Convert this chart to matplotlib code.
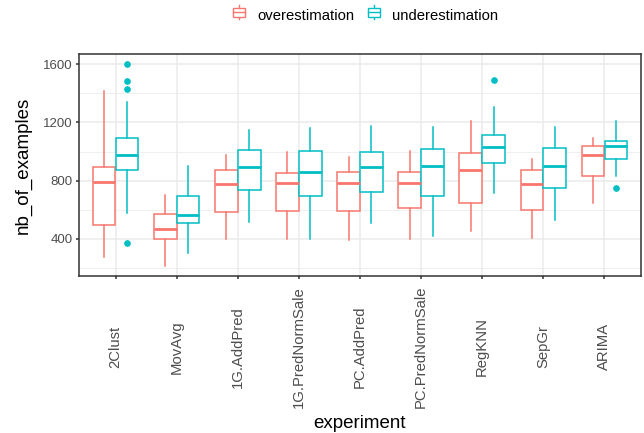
import matplotlib
matplotlib.use("Agg")
import matplotlib.pyplot as plt
from matplotlib.lines import Line2D
from matplotlib.patches import Rectangle

plt.rcParams["font.family"] = ["Liberation Sans", "DejaVu Sans"]

RED, TEAL = "#F8766D", "#00BFC4"
GRID, BORDER, TICK = "#EBEBEB", "#333333", "#4D4D4D"

experiments = ["2Clust", "MovAvg", "1G.AddPred", "1G.PredNormSale", "PC.AddPred",
               "PC.PredNormSale", "RegKNN", "SepGr", "ARIMA"]

# five-number summaries: low whisker, q1, median, q3, high whisker
over_low = [279, 217, 400, 400, 393, 397, 452, 404, 647]
over_q1 = [493, 397, 585, 592, 592, 613, 647, 596, 830]
over_med = [788, 466, 779, 786, 786, 781, 871, 779, 974]
over_q3 = [894, 569, 873, 851, 857, 862, 990, 871, 1038]
over_high = [1417, 702, 978, 999, 963, 1004, 1210, 949, 1095]
over_fliers = [[], [], [], [], [], [], [], [], []]

under_low = [580, 304, 514, 400, 510, 418, 716, 528, 832]
under_q1 = [875, 507, 736, 697, 722, 697, 923, 747, 949]
under_med = [974, 567, 891, 862, 896, 898, 1031, 898, 1035]
under_q3 = [1093, 695, 1013, 1006, 999, 1015, 1114, 1022, 1074]
under_high = [1340, 903, 1150, 1161, 1175, 1166, 1306, 1168, 1210]
under_fliers = [[1600, 1481, 1426, 373], [], [], [], [], [], [1493], [], [747]]


def stats(low, q1, med, q3, high, fliers):
    return [{"whislo": a, "q1": b, "med": c, "q3": d, "whishi": e, "fliers": f}
            for a, b, c, d, e, f in zip(low, q1, med, q3, high, fliers)]


fig = plt.figure(figsize=(6.44, 4.33), dpi=100)
ax = fig.add_axes([79 / 644, 1 - 276 / 433, (641 - 79) / 644, (276 - 54) / 433])

pos = list(range(1, len(experiments) + 1))
w = 0.375
series = [
    (stats(over_low, over_q1, over_med, over_q3, over_high, over_fliers), RED, -w / 2),
    (stats(under_low, under_q1, under_med, under_q3, under_high, under_fliers), TEAL, w / 2),
]
for st, col, off in series:
    ax.bxp(st, positions=[p + off for p in pos], widths=w * 0.98, showcaps=False,
           patch_artist=True,
           boxprops=dict(facecolor="white", edgecolor=col, lw=1.1),
           whiskerprops=dict(color=col, lw=1.1),
           medianprops=dict(color=col, lw=2.0, solid_capstyle="butt"),
           flierprops=dict(marker="o", markersize=3.8, markerfacecolor=col,
                           markeredgecolor=col, lw=0),
           zorder=3)

ax.set_xlim(0.4, len(experiments) + 0.6)
ax.set_ylim(146, 1669)
ax.set_yticks([400, 800, 1200, 1600])
ax.set_yticks([200, 600, 1000, 1400], minor=True)
ax.set_xticks(pos)
# labels are centred vertically below the axis (ggplot angle=90, hjust=0.5)
ax.set_xticklabels(experiments, rotation=90, ha="center", va="center")
ax.grid(which="major", color=GRID, lw=1.1, zorder=0)
ax.grid(which="minor", axis="y", color=GRID, lw=0.55, zorder=0)
ax.set_axisbelow(True)
for s in ax.spines.values():
    s.set_color(BORDER)
    s.set_linewidth(1.1)
ax.tick_params(which="major", length=2.4, width=1.1, color=BORDER, labelcolor=TICK)
ax.tick_params(axis="y", labelsize=9.5, pad=2)
ax.tick_params(axis="x", labelsize=10.7, pad=48.5)
ax.tick_params(which="minor", length=0)
ax.set_xlabel("experiment", fontsize=13.5, va="center")
ax.set_ylabel("nb_of_examples", fontsize=13.5, va="center")
ax.xaxis.set_label_coords(0.5, (276 - 423) / 222)
ax.yaxis.set_label_coords((23 - 79) / 562, 0.5)


class BoxKey:
    def __init__(self, col):
        self.col = col


class BoxKeyHandler:
    def legend_artist(self, legend, orig, fontsize, box):
        x0, y0, wd, ht = box.xdescent, box.ydescent, box.width, box.height
        c = orig.col
        tr = box.get_transform()
        r = Rectangle((x0 + 1, y0 + ht * 0.15), wd - 2, ht * 0.7, facecolor="white",
                      edgecolor=c, lw=1.0, transform=tr)
        m = Line2D([x0 + 1, x0 + wd - 1], [y0 + ht * 0.5] * 2, color=c, lw=1.0,
                   transform=tr)
        t = Line2D([x0 + wd / 2] * 2, [y0 - ht * 0.05, y0 + ht * 1.05], color=c, lw=1.0,
                   transform=tr)
        box.add_artist(t)
        box.add_artist(r)
        box.add_artist(m)
        return r


keys = [BoxKey(RED), BoxKey(TEAL)]
fig.legend(keys, ["overestimation", "underestimation"],
           handler_map={BoxKey: BoxKeyHandler()}, loc="center",
           bbox_to_anchor=(365 / 644, 1 - 16 / 433), ncol=2, frameon=False,
           fontsize=10.7, handlelength=1.0, handleheight=1.0, handletextpad=0.75,
           columnspacing=0.8, borderpad=0)

fig.savefig("out.png", dpi=100)
